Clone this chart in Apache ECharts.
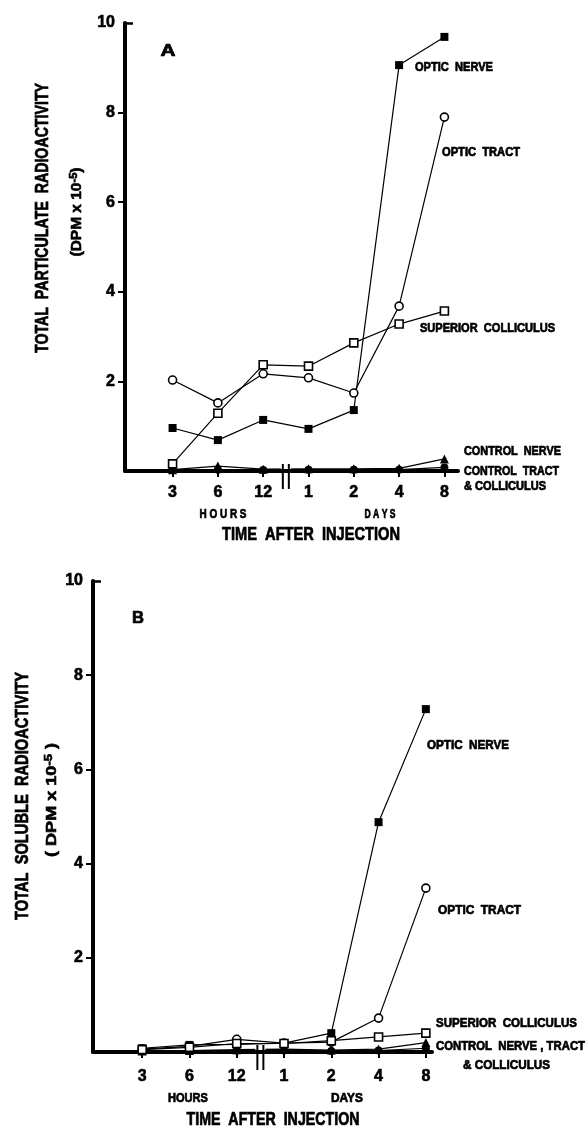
<!DOCTYPE html>
<html>
<head>
<meta charset="utf-8">
<script src="https://cdn.jsdelivr.net/npm/echarts@6/dist/echarts.min.js"></script>
<style>
html,body{margin:0;padding:0;background:#fff;}
#c{width:588px;height:1129px;}
</style>
</head>
<body>
<div id="c"></div>
<script>
// ---- data ----
const timeLabels = ["3", "6", "12", "1", "2", "4", "8"];
const yTicks = [2, 4, 6, 8, 10];

// Panel A: total particulate radioactivity (DPM x 10^-5)
const opticNerveA   = [0.96, 0.69, 1.14, 0.94, 1.36, 9.06, 9.69];
const opticTractA   = [2.03, 1.52, 2.17, 2.08, 1.74, 3.68, 7.90];
const supColA       = [0.16, 1.29, 2.37, 2.34, 2.86, 3.28, 3.57];
const ctrlNerveA    = [0.03, 0.11, 0.04, 0.05, 0.05, 0.06, 0.27];
const ctrlTractColA = [0.02, 0.03, 0.02, 0.03, 0.03, 0.03, 0.08];

// Panel B: total soluble radioactivity (DPM x 10^-5)
const opticNerveB   = [0.08, 0.15, 0.16, 0.19, 0.40, 4.88, 7.28];
const opticTractB   = [0.06, 0.12, 0.27, 0.19, 0.21, 0.72, 3.48];
const supColB       = [0.05, 0.10, 0.18, 0.18, 0.24, 0.32, 0.40];
const ctrlNerveB    = [0.02, 0.03, 0.05, 0.06, 0.04, 0.06, 0.20];
const ctrlTractColB = [0.02, 0.02, 0.03, 0.03, 0.02, 0.03, 0.08];

const breakPos = [2.5];

// ---- chart ----
const FONT = '"Liberation Sans", Arial, sans-serif';
const idx = timeLabels.map((_, i) => i);
const pairs = arr => arr.map((v, i) => [i, v]);

const mctx = document.createElement('canvas').getContext('2d');
function measure(parts) {
  let w = 0;
  parts.forEach(([t, s]) => { mctx.font = 'bold ' + s + 'px ' + FONT; w += mctx.measureText(t).width; });
  return w;
}

function xAxisFor(gridIndex, min, max, margin) {
  return {
    type: 'value', gridIndex, min, max,
    axisLine: { show: true, onZero: false, lineStyle: { color: '#000', width: 4 } },
    axisTick: { show: true, customValues: idx, length: 6, lineStyle: { color: '#000', width: 2 } },
    axisLabel: {
      show: true, customValues: idx, margin,
      formatter: v => timeLabels[Math.round(v)],
      fontFamily: FONT, fontWeight: 'bold', fontSize: 16, color: '#000',
      textBorderColor: '#000', textBorderWidth: 0.6
    },
    splitLine: { show: false }
  };
}
function yAxisFor(gridIndex) {
  return {
    type: 'value', gridIndex, min: 0, max: 10, interval: 2,
    axisLine: { show: true, onZero: false, lineStyle: { color: '#000', width: 4 } },
    axisTick: { show: true, customValues: [2, 4, 6, 8], length: 7, lineStyle: { color: '#000', width: 2 } },
    axisLabel: {
      show: true, customValues: yTicks, margin: 10,
      fontFamily: FONT, fontWeight: 'bold', fontSize: 16, color: '#000',
      textBorderColor: '#000', textBorderWidth: 0.6
    },
    splitLine: { show: false }
  };
}
function capAxis(gridIndex) {
  return {
    type: 'value', gridIndex, min: 0, max: 10, position: 'left',
    axisLine: { show: false, onZero: false },
    axisTick: { show: true, inside: true, customValues: [10], length: 8, lineStyle: { color: '#000', width: 2.5 } },
    axisLabel: { show: false },
    splitLine: { show: false }
  };
}

function lineSeries(name, arr, xi, yi, symbol, filled, size) {
  return {
    name, type: 'line', xAxisIndex: xi, yAxisIndex: yi,
    data: pairs(arr), symbol, symbolSize: size || 8, showAllSymbol: true,
    lineStyle: { color: '#000', width: 1.2 },
    itemStyle: { color: filled ? '#000' : '#fff', borderColor: '#000', borderWidth: filled ? 0 : 1.6 },
    z: filled ? 4 : 5, animation: false
  };
}
function breakSeries(xi, yi) {
  return {
    type: 'custom', xAxisIndex: xi, yAxisIndex: yi, clip: false, z: 6,
    data: breakPos.map(b => [b, 0]),
    renderItem: (params, api) => {
      const p = api.coord([api.value(0), 0]);
      return {
        type: 'group',
        children: [
          { type: 'rect', shape: { x: p[0] - 5, y: p[1] - 6, width: 10, height: 4 }, style: { fill: '#fff' } },
          { type: 'line', shape: { x1: p[0] - 3, y1: p[1] - 7, x2: p[0] - 3, y2: p[1] + 18 }, style: { stroke: '#000', lineWidth: 2 } },
          { type: 'line', shape: { x1: p[0] + 3, y1: p[1] - 7, x2: p[0] + 3, y2: p[1] + 18 }, style: { stroke: '#000', lineWidth: 2 } }
        ]
      };
    }
  };
}

// text fitted to a target width (condensed look via scaleX)
function txt(x, y, text, size, targetW, align, rot) {
  const w = measure([[text, size]]);
  return {
    type: 'text', x, y, rotation: rot || 0, scaleX: targetW / w, z: 10,
    style: {
      text, fill: '#000', font: 'bold ' + size + 'px ' + FONT,
      stroke: '#000', lineWidth: 0.7,
      textAlign: align || 'left', textVerticalAlign: 'middle'
    }
  };
}
function dpm(x, y, pre, post, size, targetW) {
  const w = measure([[pre + '10', size], ['-5', size * 0.72], [post, size]]);
  return {
    type: 'text', x, y, rotation: Math.PI / 2, scaleX: targetW / w, z: 10,
    style: {
      text: pre + '10{s|-5}' + post,
      rich: { s: { fontSize: size * 0.72, fontWeight: 'bold', fontFamily: FONT, verticalAlign: 'top', padding: [0, 0, 5, 0] } },
      fill: '#000', stroke: '#000', lineWidth: 0.6,
      font: 'bold ' + size + 'px ' + FONT, textAlign: 'center', textVerticalAlign: 'middle'
    }
  };
}
const R = Math.PI / 2;

const chart = echarts.init(document.getElementById('c'), null, { renderer: 'canvas' });
chart.setOption({
  animation: false,
  backgroundColor: '#fff',
  grid: [
    { left: 125, top: 23, right: 130, bottom: 658 },
    { left: 93, top: 581, right: 156, bottom: 77 }
  ],
  xAxis: [xAxisFor(0, -1.05, 6.3, 14), xAxisFor(1, -1.04, 6.13, 17)],
  yAxis: [yAxisFor(0), yAxisFor(1), capAxis(0), capAxis(1)],
  series: [
    lineSeries('Control Tract & Colliculus A', ctrlTractColA, 0, 0, 'circle', true, 8),
    lineSeries('Control Nerve A', ctrlNerveA, 0, 0, 'triangle', true, 9),
    lineSeries('Optic Nerve A', opticNerveA, 0, 0, 'rect', true, 8),
    lineSeries('Optic Tract A', opticTractA, 0, 0, 'circle', false, 8),
    lineSeries('Superior Colliculus A', supColA, 0, 0, 'rect', false, 8),
    breakSeries(0, 0),
    lineSeries('Control Tract & Colliculus B', ctrlTractColB, 1, 1, 'circle', true, 8),
    lineSeries('Control Nerve B', ctrlNerveB, 1, 1, 'triangle', true, 9),
    lineSeries('Optic Nerve B', opticNerveB, 1, 1, 'rect', true, 8),
    lineSeries('Optic Tract B', opticTractB, 1, 1, 'circle', false, 8),
    lineSeries('Superior Colliculus B', supColB, 1, 1, 'rect', false, 8),
    breakSeries(1, 1)
  ],
  graphic: [
    // Panel A
    txt(168, 52, 'A', 16, 15, 'center'),
    txt(43, 218, 'TOTAL  PARTICULATE  RADIOACTIVITY', 18, 270, 'center', R),
    dpm(77, 212, '(DPM x ', ')', 14, 89),
    txt(415, 68, 'OPTIC  NERVE', 12.5, 78),
    txt(442, 153, 'OPTIC  TRACT', 12.5, 78),
    txt(420, 329, 'SUPERIOR  COLLICULUS', 12.5, 135),
    txt(464, 452, 'CONTROL  NERVE', 12.5, 97),
    txt(464, 472, 'CONTROL  TRACT', 12.5, 95),
    txt(464, 487, '& COLLICULUS', 12.5, 82),
    txt(223, 515, 'H O U R S', 12.5, 47, 'center'),
    txt(380, 515, 'D A Y S', 12.5, 31, 'center'),
    txt(311, 535, 'TIME  AFTER  INJECTION', 18, 178, 'center'),
    // Panel B
    txt(138, 618, 'B', 17, 12, 'center'),
    txt(23, 796, 'TOTAL  SOLUBLE  RADIOACTIVITY', 18, 248, 'center', R),
    dpm(52, 800, '( DPM x ', ' )', 14, 114),
    txt(427, 745, 'OPTIC  NERVE', 13, 82),
    txt(438, 910, 'OPTIC  TRACT', 13, 83),
    txt(436, 1023, 'SUPERIOR  COLLICULUS', 13, 141),
    txt(436, 1046, 'CONTROL  NERVE , TRACT', 13, 149),
    txt(463, 1065, '& COLLICULUS', 13, 87),
    txt(188, 1098, 'HOURS', 13, 40, 'center'),
    txt(347, 1098, 'DAYS', 13, 32, 'center'),
    txt(273, 1120, 'TIME  AFTER  INJECTION', 18, 173, 'center')
  ]
});
</script>
</body>
</html>
